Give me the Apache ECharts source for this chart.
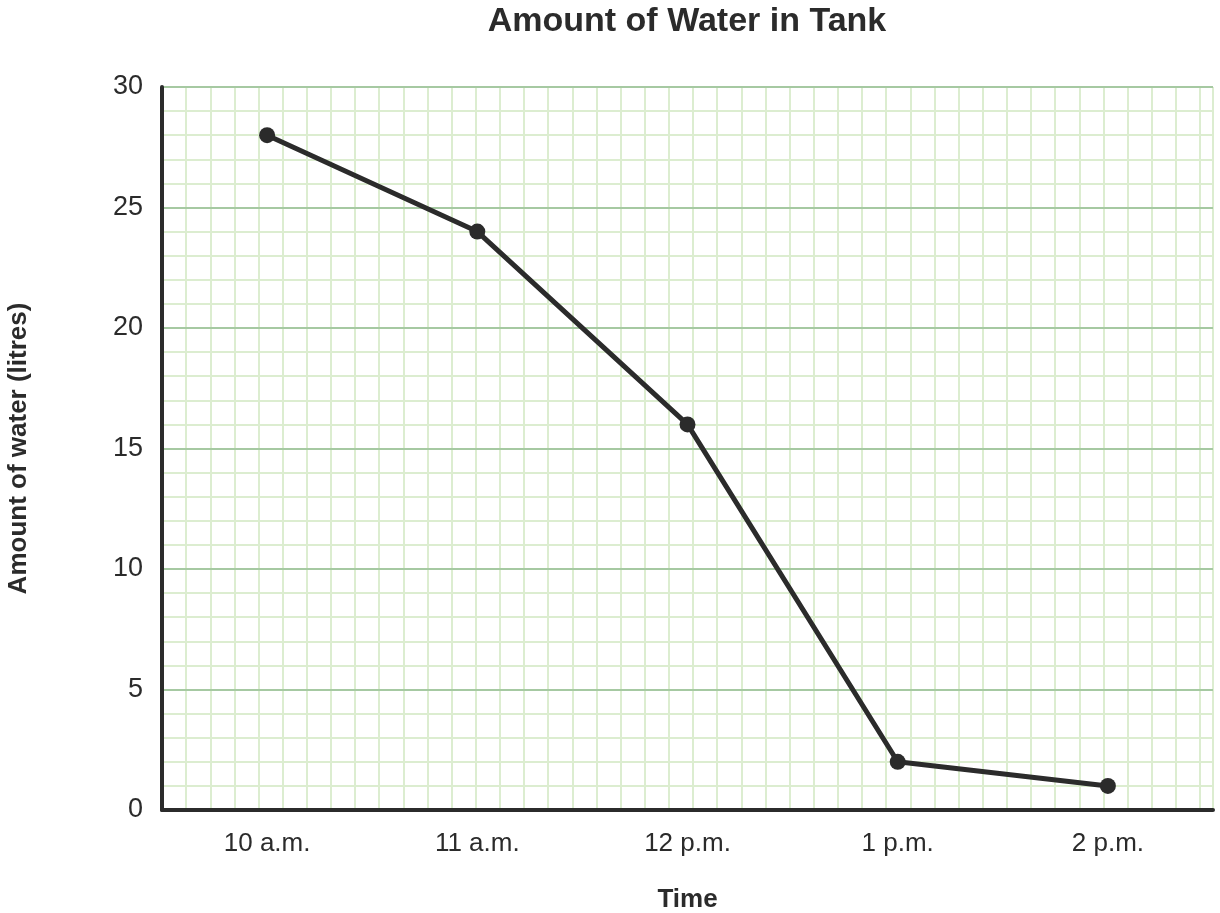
<!DOCTYPE html>
<html>
<head>
<meta charset="utf-8">
<script src="https://cdn.jsdelivr.net/npm/echarts@6/dist/echarts.min.js"></script>
<style>
html, body { margin: 0; padding: 0; background: #fff; }
#main { width: 1220px; height: 913px; }
</style>
</head>
<body>
<div id="main"></div>
<script>
// data
var times = ['10 a.m.', '11 a.m.', '12 p.m.', '1 p.m.', '2 p.m.'];
var water = [28, 24, 16, 2, 1];

var ink = '#2b2b2b';
var font = 'Liberation Sans, Arial';
var myChart = echarts.init(document.getElementById('main'));
myChart.setOption({
	animation: false,
	title: {
		text: 'Amount of Water in Tank',
		left: 687,
		textAlign: 'center',
		top: 5,
		padding: 0,
		textStyle: { fontFamily: font, fontSize: 34, fontWeight: 'bold', color: ink }
	},
	grid: { left: 162, right: 7, top: 87, bottom: 103, outerBoundsMode: 'none' },
	xAxis: [{
		type: 'category',
		data: times,
		boundaryGap: true,
		name: 'Time',
		nameLocation: 'middle',
		nameGap: 77,
		nameTextStyle: { fontFamily: font, fontSize: 26, fontWeight: 'bold', color: ink },
		axisLine: { lineStyle: { color: ink, width: 4 } },
		axisTick: { show: false },
		axisLabel: { fontFamily: font, fontSize: 26, color: ink, margin: 21 },
		splitLine: { show: false },
		z: 5
	}, {
		// only used for the vertical graph-paper lines
		type: 'value',
		min: 0,
		max: 43.54,
		interval: 1,
		position: 'top',
		axisLine: { show: false },
		axisTick: { show: false },
		axisLabel: { show: false },
		splitLine: { show: true, lineStyle: { color: '#dcedd0', width: 2 } }
	}],
	yAxis: {
		type: 'value',
		min: 0,
		max: 30,
		interval: 5,
		name: 'Amount of water (litres)',
		nameLocation: 'middle',
		nameGap: 130,
		nameTextStyle: { fontFamily: font, fontSize: 26, fontWeight: 'bold', color: ink },
		axisLine: { show: true, lineStyle: { color: ink, width: 4 } },
		axisTick: { show: false },
		axisLabel: { fontFamily: font, fontSize: 27, color: ink, margin: 19, padding: [6, 0, 0, 0] },
		splitLine: { show: true, lineStyle: { color: '#a6c9a2', width: 2 } },
		minorTick: { show: false, splitNumber: 5 },
		minorSplitLine: { show: true, lineStyle: { color: '#dcedd0', width: 2 } },
		z: 5
	},
	series: [{
		type: 'line',
		data: water,
		xAxisIndex: 0,
		symbol: 'circle',
		symbolSize: 16,
		lineStyle: { color: ink, width: 5 },
		itemStyle: { color: ink },
		z: 10
	}]
});
</script>
</body>
</html>
